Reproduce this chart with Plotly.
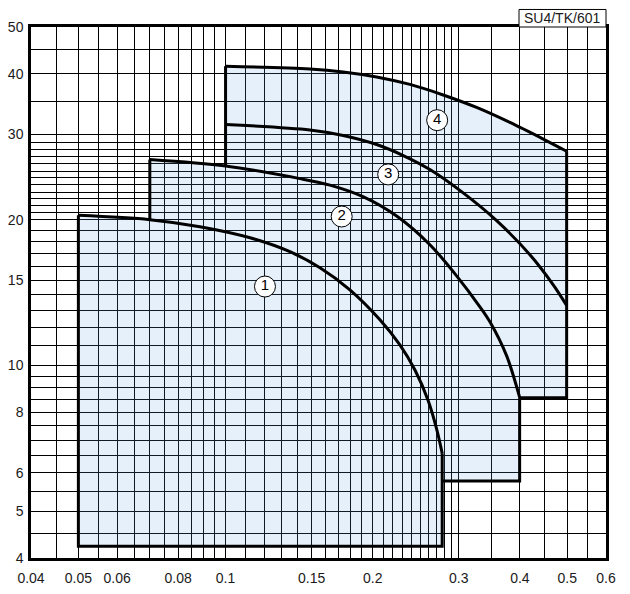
import plotly.graph_objects as go

# ---------------- data ----------------
x_tick_vals = [0.04, 0.05, 0.06, 0.08, 0.1, 0.15, 0.2, 0.3, 0.4, 0.5, 0.6]
x_tick_text = ["0.04", "0.05", "0.06", "0.08", "0.1", "0.15", "0.2", "0.3", "0.4", "0.5", "0.6"]
y_tick_vals = [4, 5, 6, 8, 10, 15, 20, 30, 40, 50]
y_tick_text = ["4", "5", "6", "8", "10", "15", "20", "30", "40", "50"]

x_grid_minor = [0.045, 0.055, 0.065, 0.07, 0.075, 0.085, 0.09, 0.095,
                0.11, 0.12, 0.13, 0.14, 0.16, 0.17, 0.18, 0.19,
                0.21, 0.22, 0.23, 0.24, 0.25, 0.26, 0.27, 0.28, 0.29,
                0.35, 0.45, 0.55]
y_grid_minor = [4.5, 5.5, 6.5, 7, 7.5, 8.5, 9, 9.5, 11, 12, 13, 14,
                16, 17, 18, 19, 20.7, 21.4, 22.1, 22.8, 23.6, 24.4,
                25.2, 26.1, 27.0, 27.9, 28.9, 35, 45]

# boundary curves
c1_x = [0.05, 0.07, 0.0886, 0.1122, 0.1354, 0.156, 0.1796, 0.2069, 0.2273, 0.244, 0.2594, 0.2706, 0.2774]
c1_y = [20.41, 20.0, 19.34, 18.35, 17.17, 15.91, 14.32, 12.42, 11.02, 9.78, 8.48, 7.35, 6.58]
c2_x = [0.07, 0.1, 0.142, 0.1635, 0.191, 0.2242, 0.2618, 0.2969, 0.3313, 0.3473, 0.3758, 0.3995]
c2_y = [26.61, 25.8, 24.31, 23.57, 22.31, 20.32, 17.75, 15.31, 13.21, 12.3, 10.46, 8.59]
c3_x = [0.1, 0.1488, 0.174, 0.2037, 0.2309, 0.2618, 0.3062, 0.3585, 0.4193, 0.468, 0.4985]
c3_y = [31.45, 30.64, 29.85, 28.59, 27.13, 25.38, 22.71, 19.9, 16.93, 14.67, 13.3]
c4_x = [0.1, 0.1488, 0.174, 0.2037, 0.2383, 0.2787, 0.3262, 0.3816, 0.4465, 0.4985]
c4_y = [41.5, 40.95, 40.38, 39.43, 38.05, 36.19, 34.1, 31.75, 29.34, 27.69]

region_bottoms = [4.23, 5.77, 8.57]

label_text = ["1", "2", "3", "4"]
label_x = [0.1204, 0.1728, 0.2151, 0.2709]
label_y = [14.55, 20.3, 24.8, 32.1]

box_text = "SU4/TK/601"

# ---------------- styling ----------------
FILL = "rgba(100,160,225,0.16)"
FONT = "Liberation Sans, Arial, sans-serif"
LW = 3

fig = go.Figure()

def poly(xs, ys):
    fig.add_trace(go.Scatter(x=xs, y=ys, mode="lines", fill="toself",
                             fillcolor=FILL, line=dict(width=0),
                             hoverinfo="skip", showlegend=False))

# region 1
poly([c1_x[0]] + c1_x + [c1_x[-1]],
     [region_bottoms[0]] + c1_y + [region_bottoms[0]])
# region 2 (between curve 1 and curve 2)
c1_tail = [(x, y) for x, y in zip(c1_x, c1_y) if x >= c2_x[0]][::-1]
poly(c2_x + [c2_x[-1], c1_x[-1]] + [p[0] for p in c1_tail],
     c2_y + [region_bottoms[1], region_bottoms[1]] + [p[1] for p in c1_tail])
# region 3 (between curve 2 and curve 3)
c2_tail = [(x, y) for x, y in zip(c2_x, c2_y) if x >= c3_x[0]][::-1]
poly(c3_x + [c3_x[-1], c2_x[-1]] + [p[0] for p in c2_tail],
     c3_y + [region_bottoms[2], region_bottoms[2]] + [p[1] for p in c2_tail])
# region 4 (between curve 3 and curve 4)
poly(c4_x + c3_x[::-1], c4_y + c3_y[::-1])

# curves
for cx, cy in [(c1_x, c1_y), (c2_x, c2_y), (c3_x, c3_y), (c4_x, c4_y)]:
    fig.add_trace(go.Scatter(x=cx, y=cy, mode="lines",
                             line=dict(color="black", width=LW, shape="spline", smoothing=0.9),
                             hoverinfo="skip", showlegend=False))

# straight edges
edges = [
    ([c1_x[-1], c1_x[-1], c1_x[0], c1_x[0]],
     [c1_y[-1], region_bottoms[0], region_bottoms[0], c1_y[0]]),
    ([c2_x[0], c2_x[0]], [c1_y[1], c2_y[0]]),
    ([c1_x[-1], c2_x[-1], c2_x[-1]], [region_bottoms[1], region_bottoms[1], c2_y[-1]]),
    ([c2_x[-1], c3_x[-1], c3_x[-1]], [region_bottoms[2], region_bottoms[2], c4_y[-1]]),
    ([c3_x[0], c4_x[0]], [c2_y[1], c4_y[0]]),
]
for ex, ey in edges:
    fig.add_trace(go.Scatter(x=ex, y=ey, mode="lines",
                             line=dict(color="black", width=LW),
                             hoverinfo="skip", showlegend=False))

# circled labels
fig.add_trace(go.Scatter(x=label_x, y=label_y, mode="markers+text",
                         text=label_text, textposition="middle center",
                         textfont=dict(family=FONT, size=15, color="black"),
                         marker=dict(size=21, color="white",
                                     line=dict(color="black", width=1)),
                         hoverinfo="skip", showlegend=False))

grid_col = "black"
fig.update_xaxes(type="log", range=[-1.39794, -0.221849], automargin=False,
                 tickmode="array", tickvals=x_tick_vals, ticktext=x_tick_text,
                 showgrid=True, gridcolor=grid_col, gridwidth=1.2,
                 minor=dict(tickmode="array", tickvals=x_grid_minor,
                            showgrid=True, gridcolor=grid_col, gridwidth=1.2, ticks=""),
                 showline=True, linecolor="black", linewidth=2.5, mirror=True,
                 ticks="", ticklabelstandoff=5,
                 tickfont=dict(family=FONT, size=14, color="#1a1a1a"),
                 zeroline=False)
fig.update_yaxes(type="log", range=[0.60206, 1.69897], automargin=False,
                 tickmode="array", tickvals=y_tick_vals, ticktext=y_tick_text,
                 showgrid=True, gridcolor=grid_col, gridwidth=1.2,
                 minor=dict(tickmode="array", tickvals=y_grid_minor,
                            showgrid=True, gridcolor=grid_col, gridwidth=1.2, ticks=""),
                 showline=True, linecolor="black", linewidth=2.5, mirror=True,
                 ticks="", ticklabelstandoff=2,
                 tickfont=dict(family=FONT, size=14, color="#1a1a1a"),
                 zeroline=False)

fig.add_shape(type="rect", xref="paper", yref="paper",
              x0=0.8487, x1=1.0, y0=1.0, y1=1.033,
              line=dict(color="black", width=1), fillcolor="white", layer="above")
fig.add_annotation(xref="paper", yref="paper", x=0.9243, y=1.0165,
                   text=box_text, showarrow=False, xanchor="center", yanchor="middle",
                   font=dict(family=FONT, size=14, color="#1a1a1a"))

fig.update_layout(width=630, height=594,
                  margin=dict(l=31, r=24, t=27, b=36),
                  paper_bgcolor="white", plot_bgcolor="white")

fig.write_html("out.html", config={"displayModeBar": False},
               post_script="document.body.style.margin='0';document.body.style.overflow='hidden';")
